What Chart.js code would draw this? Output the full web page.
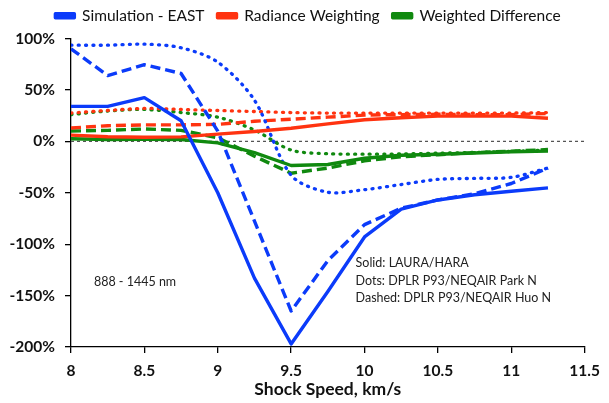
<!DOCTYPE html>
<html>
<head>
<meta charset="utf-8">
<script src="https://cdn.jsdelivr.net/npm/chart.js@4.4.0/dist/chart.umd.min.js"></script>
<style>
  html, body { margin: 0; padding: 0; background: #fff; }
  #wrap { width: 609px; height: 403px; position: relative; }
</style>
</head>
<body>
<div id="wrap"><canvas id="c" width="609" height="403"></canvas></div>
<script>
// ---- data ----
const shockSpeed = [8, 8.25, 8.5, 8.75, 9, 9.25, 9.5, 9.75, 10, 10.25, 10.5, 10.75, 11, 11.25];

const eastSolid  = [34, 34, 42.5, 20, -50, -133, -197, -146, -93, -66, -57, -52, -48.5, -45.3];
const eastDashed = [90, 64, 74.5, 66, 10, null, -165, -116, -81, -65, -57, -51, -41, -26];
const eastDots   = [93.5, 93.5, 94.5, 91, 77, 40, -33, -49.5, -47, -42, -37, -36, -35, -26];

const radSolid   = [6, 4.5, 4, 4.3, 7, 9.5, 12.7, 17, 21, 23, 24.5, 24.7, 24.5, 22.5];
const radDashed  = [13, 15.2, 16, 16, 16.5, 19.5, 21.5, 23.5, 25.5, 26, 26.3, 26, 26, 27];
const radDots    = [27.5, 30, 32, 31, 30, 29, 28, 27.5, 27.5, 27.5, 27.5, 27.5, 27.5, 28];

const diffSolid  = [2.5, 1.8, 2, 1.8, -1.5, -11, -23.5, -22.5, -16.5, -13.5, -12.5, -11.3, -10.2, -9.5];
const diffDashed = [10, 10.7, 12, 10.7, 3.5, -14.5, -31, -26, -19, -15, -13, -11, -9.5, -8];
const diffDots   = [26, 29.5, 31, 28, 23.5, 11, -8.5, -12, -12.5, -12.3, -11.5, -10.8, -9.8, -8.5];

const seriesNames = ["Simulation - EAST", "Radiance Weighting", "Weighted Difference"];
const xTicks = [8, 8.5, 9, 9.5, 10, 10.5, 11, 11.5];
const yTicks = [-200, -150, -100, -50, 0, 50, 100];
const noteRange = "888 - 1445 nm";
const noteLines = ["Solid: LAURA/HARA", "Dots: DPLR P93/NEQAIR Park N", "Dashed: DPLR P93/NEQAIR Huo N"];

// ---- build datasets ----
const BLUE = '#0B3BFA', RED = '#FF3310', GREEN = '#10890F';
function pts(vals) { return shockSpeed.map((x, i) => ({ x: x, y: vals[i] })); }
function ds(label, vals, color, style) {
  const d = {
    label: label, data: pts(vals), borderColor: color, backgroundColor: color,
    borderWidth: 3.4, pointRadius: 0, fill: false, spanGaps: true, tension: 0,
    borderCapStyle: 'butt', borderJoinStyle: 'round'
  };
  if (style === 'dash') { d.borderDash = [10, 5]; }
  if (style === 'dot') { d.borderDash = [1, 6.3]; d.borderCapStyle = 'round'; d.borderWidth = 3.3; d.tension = 0.3; }
  return d;
}
const datasets = [
  ds(seriesNames[0], eastSolid, BLUE, 'solid'),
  ds(seriesNames[1], radSolid, RED, 'solid'),
  ds(seriesNames[2], diffSolid, GREEN, 'solid'),
  ds(seriesNames[0] + ' dashed', eastDashed, BLUE, 'dash'),
  ds(seriesNames[0] + ' dots', eastDots, BLUE, 'dot'),
  ds(seriesNames[1] + ' dashed', radDashed, RED, 'dash'),
  ds(seriesNames[1] + ' dots', radDots, RED, 'dot'),
  ds(seriesNames[2] + ' dashed', diffDashed, GREEN, 'dash'),
  ds(seriesNames[2] + ' dots', diffDots, GREEN, 'dot'),
  { label: 'zero', data: [{ x: xTicks[0], y: 0 }, { x: xTicks[xTicks.length - 1], y: 0 }],
    borderColor: '#555', borderWidth: 1.3, borderDash: [3, 3], pointRadius: 0, fill: false }
];

const notesPlugin = {
  id: 'notes',
  afterDatasetsDraw(chart) {
    const { ctx, scales } = chart;
    const xs = scales.x, ys = scales.y;
    ctx.save();
    ctx.fillStyle = '#222';
    ctx.font = '12.5px Lato, "Noto Sans", sans-serif';
    ctx.textBaseline = 'middle';
    ctx.textAlign = 'left';
    ctx.fillText(noteRange, xs.getPixelForValue(8.156), ys.getPixelForValue(-136.4));
    const x0 = xs.getPixelForValue(9.939);
    const yv = [-118.6, -135.7, -152.7];
    noteLines.forEach((t, i) => ctx.fillText(t, x0, ys.getPixelForValue(yv[i])));
    ctx.restore();
  }
};

// spacer box between legend and plot area
const spacerPlugin = {
  id: 'spacer',
  beforeInit(chart) {
    Chart.layouts.addBox(chart, {
      position: 'top', weight: 0, fullSize: true, options: {},
      isHorizontal() { return true; },
      update(maxWidth) { this.width = maxWidth; this.height = 5; },
      getPadding() { return { left: 0, right: 0, top: 0, bottom: 0 }; },
      draw() {}
    });
  }
};

// nudge legend block to the right, as in the reference
const legendShift = {
  id: 'legendShift',
  beforeDraw(chart) {
    const lg = chart.legend;
    if (lg && !lg._shifted) { lg.left += 15; lg.right += 15; lg._shifted = true; }
  },
  afterLayout(chart) { if (chart.legend) chart.legend._shifted = false; }
};

const tickFont = { family: 'Lato, "Noto Sans", sans-serif', size: 15.5, weight: 'bold' };

new Chart(document.getElementById('c'), {
  type: 'line',
  data: { datasets: datasets },
  options: {
    responsive: false,
    animation: false,
    devicePixelRatio: 1,
    layout: { padding: { left: 0, right: 23, top: -5, bottom: 0 } },
    plugins: {
      tooltip: { enabled: false },
      legend: {
        display: true, position: 'top', align: 'center',
        labels: {
          filter: (item) => seriesNames.includes(item.text),
          boxWidth: 19, boxHeight: 4, padding: 13, color: '#111',
          font: { family: 'Lato, "Noto Sans", sans-serif', size: 15.5 }
        }
      }
    },
    scales: {
      x: {
        type: 'linear', min: 8, max: 11.5,
        afterBuildTicks: (s) => { s.ticks = xTicks.map(v => ({ value: v })); },
        afterFit: (s) => { s.height = 56; },
        ticks: { color: '#111', font: tickFont, padding: 9, maxRotation: 0,
                 callback: (v) => String(v) },
        grid: { display: true, drawOnChartArea: false, drawTicks: true, tickLength: 6, color: '#000', lineWidth: 1.3 },
        border: { display: true, color: '#000', width: 1.3 },
        title: { display: true, text: 'Shock Speed, km/s', color: '#111',
                 font: { family: 'Lato, "Noto Sans", sans-serif', size: 17.5, weight: 'bold' }, padding: { top: 0, bottom: 3 } }
      },
      y: {
        type: 'linear', min: -200, max: 100,
        afterBuildTicks: (s) => { s.ticks = yTicks.map(v => ({ value: v })); },
        afterFit: (s) => { s.width = 71; },
        ticks: { color: '#111', font: tickFont, padding: 10, callback: (v) => v + '%' },
        grid: { display: true, drawOnChartArea: false, drawTicks: true, tickLength: 6, color: '#000', lineWidth: 1.3 },
        border: { display: true, color: '#000', width: 1.3 }
      }
    }
  },
  plugins: [notesPlugin, spacerPlugin, legendShift]
});
</script>
</body>
</html>
